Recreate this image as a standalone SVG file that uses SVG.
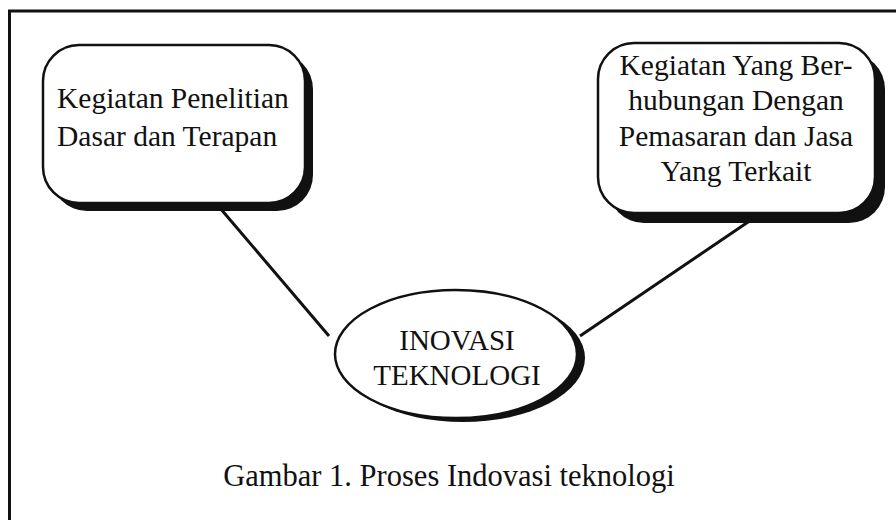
<svg xmlns="http://www.w3.org/2000/svg" width="896" height="520" viewBox="0 0 896 520">
<style>
.t{font-family:"Liberation Serif","Times New Roman",serif;font-size:29.5px;fill:#111;}
.c{text-anchor:middle;}
.box{fill:#fff;stroke:#111;stroke-width:2.5;}
.sh{fill:#111;}
.ln{stroke:#111;stroke-width:3;fill:none;}
</style>
<rect width="896" height="520" fill="#fff"/>
<g id="frame"><path d="M9.5,520 V11 H896" fill="none" stroke="#111" stroke-width="3"/></g>
<g id="connectors">
<line class="ln" x1="220" y1="208" x2="329" y2="336"/>
<line class="ln" x1="751" y1="220" x2="580" y2="336"/>
</g>
<g id="node-left">
<rect class="sh" x="51" y="53" width="262" height="158" rx="36"/>
<rect class="box" x="43" y="45" width="262" height="158" rx="36"/>
<text class="t" x="57" y="108">Kegiatan Penelitian</text>
<text class="t" x="57" y="146">Dasar dan Terapan</text>
</g>
<g id="node-right">
<rect class="sh" x="608" y="53" width="277" height="170" rx="36"/>
<rect class="box" x="598" y="43" width="277" height="170" rx="36"/>
<text class="t c" x="736" y="75">Kegiatan Yang Ber-</text>
<text class="t c" x="736" y="110">hubungan Dengan</text>
<text class="t c" x="736" y="146">Pemasaran dan Jasa</text>
<text class="t c" x="736" y="181">Yang Terkait</text>
</g>
<g id="node-center">
<ellipse class="sh" cx="463" cy="358" rx="122" ry="64"/>
<ellipse class="box" cx="456" cy="354" rx="121" ry="64"/>
<text class="t c" x="457" y="350" style="font-size:29px">INOVASI</text>
<text class="t c" x="457" y="385" style="font-size:29px">TEKNOLOGI</text>
</g>
<text id="caption" class="t c" x="449" y="486" style="font-size:30.5px">Gambar 1. Proses Indovasi teknologi</text>
</svg>
